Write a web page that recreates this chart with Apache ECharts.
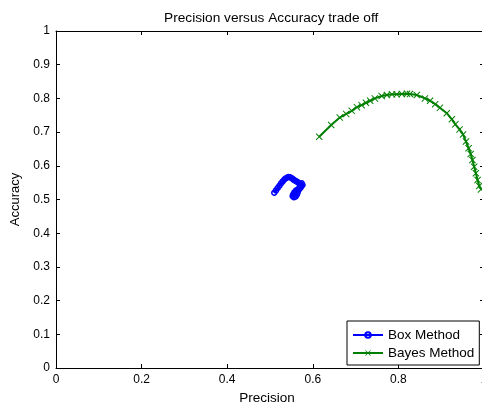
<!DOCTYPE html>
<html>
<head>
<meta charset="utf-8">
<script src="https://cdn.jsdelivr.net/npm/echarts@6/dist/echarts.min.js"></script>
<style>html,body{margin:0;padding:0;background:#fff;}#c{width:482px;height:408px;}</style>
</head>
<body>
<div id="c"></div>
<script>
var titleText = "Precision versus Accuracy trade off";
var xName = "Precision";
var yName = "Accuracy";
var seriesNames = ["Box Method", "Bayes Method"];

var boxPrecision = [0.510,0.514,0.518,0.522,0.526,0.530,0.534,0.538,0.543,0.547,0.551,0.555,0.559,0.563,0.567,0.570,0.573,0.571,0.566,0.561,0.557,0.554,0.553,0.556,0.560,0.563,0.565,0.568,0.572,0.576,0.574];
var boxAccuracy  = [0.520,0.527,0.534,0.541,0.548,0.554,0.560,0.564,0.567,0.566,0.563,0.559,0.556,0.553,0.549,0.545,0.540,0.535,0.531,0.527,0.521,0.515,0.510,0.507,0.509,0.515,0.522,0.530,0.537,0.543,0.548];

var bayesPrecision = [0.615,0.643,0.663,0.678,0.691,0.703,0.714,0.724,0.734,0.745,0.761,0.773,0.785,0.796,0.808,0.820,0.827,0.843,0.862,0.874,0.886,0.897,0.913,0.925,0.933,0.943,0.951,0.958,0.964,0.969,0.973,0.977,0.981,0.985,0.989,0.993];
var bayesAccuracy  = [0.686,0.721,0.743,0.754,0.763,0.774,0.780,0.787,0.793,0.800,0.807,0.810,0.812,0.812,0.813,0.814,0.813,0.810,0.800,0.793,0.783,0.772,0.756,0.738,0.723,0.708,0.693,0.672,0.652,0.635,0.617,0.597,0.578,0.558,0.540,0.530];

function zip(a, b) { return a.map(function (v, i) { return [v, b[i]]; }); }

var FONT = "Liberation Sans";
var xMark = 'path://M0,1L1,0L5,4L9,0L10,1L6,5L10,9L9,10L5,6L1,10L0,9L4,5Z';

var chart = echarts.init(document.getElementById('c'), null, {renderer: 'canvas'});
function axisCommon() {
  return {
    min: 0, max: 1,
    axisLine: {show: true, onZero: false, lineStyle: {color: '#000', width: 1}},
    axisTick: {show: true, inside: true, length: 4, lineStyle: {color: '#000'}},
    splitLine: {show: false}
  };
}
var labelFmt = function (v) { return String(Math.round(v * 10) / 10); };
chart.setOption({
  animation: false,
  backgroundColor: '#fff',
  title: {
    text: titleText, left: 159, top: 6,
    textStyle: {fontFamily: FONT, fontSize: 13.7, fontWeight: 'normal', color: '#000'}
  },
  legend: {
    orient: 'vertical', left: 347, top: 321,
    padding: [7, 5, 5, 5], itemGap: 4, itemWidth: 30, itemHeight: 7,
    backgroundColor: '#fff', borderColor: '#000', borderWidth: 1, borderRadius: 0,
    textStyle: {fontFamily: FONT, fontSize: 13.5, color: '#000'},
    data: seriesNames
  },
  grid: {left: 56, right: -2, top: 31, bottom: 40, containLabel: false, outerBoundsMode: 'none'},
  xAxis: [
    Object.assign(axisCommon(), {
      type: 'value', position: 'bottom', interval: 0.2,
      name: xName, nameLocation: 'middle', nameGap: 23,
      nameTextStyle: {fontFamily: FONT, fontSize: 13.5, color: '#000', padding: [0, 6, 0, 0]},
      axisLabel: {fontFamily: FONT, fontSize: 12, color: '#000', margin: 6, formatter: labelFmt}
    }),
    Object.assign(axisCommon(), {
      type: 'value', position: 'top', interval: 0.2, axisLabel: {show: false}
    })
  ],
  yAxis: [
    Object.assign(axisCommon(), {
      type: 'value', position: 'left', interval: 0.1,
      name: yName, nameLocation: 'middle', nameGap: 29, nameRotate: 90,
      nameTextStyle: {fontFamily: FONT, fontSize: 13, color: '#000'},
      axisLabel: {fontFamily: FONT, fontSize: 12, color: '#000', margin: 6, formatter: labelFmt}
    }),
    Object.assign(axisCommon(), {
      type: 'value', position: 'right', interval: 0.1, axisLabel: {show: false}
    })
  ],
  series: [
    {
      name: seriesNames[0], type: 'line', xAxisIndex: 0, yAxisIndex: 0,
      data: zip(boxPrecision, boxAccuracy),
      symbol: 'circle', symbolSize: 5, showAllSymbol: true,
      lineStyle: {color: '#0000ff', width: 2},
      itemStyle: {color: 'rgba(0,0,255,0)', borderColor: '#0000ff', borderWidth: 1.5},
      emphasis: {disabled: true}
    },
    {
      name: seriesNames[1], type: 'line', xAxisIndex: 0, yAxisIndex: 0,
      data: zip(bayesPrecision, bayesAccuracy),
      symbol: xMark, symbolSize: 7, showAllSymbol: true,
      lineStyle: {color: '#008000', width: 2},
      itemStyle: {color: '#008000'},
      emphasis: {disabled: true}
    }
  ]
});
</script>
</body>
</html>
